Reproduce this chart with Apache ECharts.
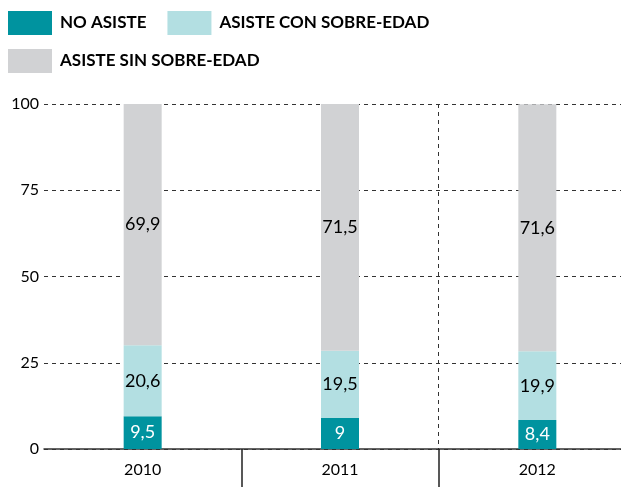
<!DOCTYPE html>
<html>
<head>
<meta charset="utf-8">
<script src="https://cdn.jsdelivr.net/npm/echarts@6/dist/echarts.min.js"></script>
<style>
  html, body { margin: 0; padding: 0; background: #fff; }
  #chart { width: 621px; height: 487px; }
</style>
</head>
<body>
<div id="chart"></div>
<script>
// datos
const years = ['2010', '2011', '2012']
const noAsiste = [9.5, 9, 8.4]
const conSobreEdad = [20.6, 19.5, 19.9]
const sinSobreEdad = [69.9, 71.5, 71.6]
const yTicks = [0, 25, 50, 75, 100]

const FONT = 'Lato'
const fmt = (p) => String(p.value).replace('.', ',')

const chart = echarts.init(document.getElementById('chart'))

function barSerie(name, data, color, labelColor) {
  return {
    name: name,
    type: 'bar',
    stack: 'total',
    barWidth: 38,
    data: data,
    itemStyle: { color: color },
    label: {
      show: true,
      position: 'inside',
      color: labelColor,
      fontFamily: FONT,
      fontSize: 18,
      formatter: fmt,
    },
  }
}

const legendBase = {
  itemWidth: 44,
  itemHeight: 24,
  itemGap: 21,
  padding: 0,
  icon: 'rect',
  selectedMode: false,
  textStyle: {
    fontFamily: FONT, fontWeight: 'bold', fontSize: 17, color: '#000',
    padding: [0, 0, 0, 3],
  },
}

chart.setOption({
  animation: false,
  legend: [
    Object.assign({}, legendBase, { left: 8, top: 11, data: ['NO ASISTE', 'ASISTE CON SOBRE-EDAD'] }),
    Object.assign({}, legendBase, { left: 8, top: 49, data: ['ASISTE SIN SOBRE-EDAD'] }),
  ],
  // la tercera columna sigue fuera del lienzo
  grid: { left: 44, width: 592, top: 104, bottom: 38, outerBoundsMode: 'none' },
  xAxis: {
    type: 'category',
    data: years,
    axisLine: { show: true, lineStyle: { color: '#333', width: 1.5 } },
    axisTick: {
      show: true,
      length: 40,
      interval: (i) => i > 0,
      lineStyle: { color: '#222', width: 1.5 },
    },
    axisLabel: { color: '#000', fontFamily: FONT, fontSize: 16, margin: 13 },
    splitLine: {
      show: true,
      showMinLine: false,
      interval: (i) => i > 0,
      lineStyle: { color: '#333', type: [4, 4] },
    },
  },
  yAxis: {
    type: 'value',
    min: yTicks[0],
    max: yTicks[yTicks.length - 1],
    interval: 25,
    axisLine: { show: false },
    axisTick: { show: false },
    axisLabel: { color: '#000', fontFamily: FONT, fontSize: 16, margin: 5 },
    splitLine: { lineStyle: { color: '#333', type: [4, 4] } },
  },
  series: [
    barSerie('NO ASISTE', noAsiste, '#00939f', '#fff'),
    barSerie('ASISTE CON SOBRE-EDAD', conSobreEdad, '#b3dfe2', '#000'),
    barSerie('ASISTE SIN SOBRE-EDAD', sinSobreEdad, '#d1d2d4', '#000'),
  ],
})
</script>
</body>
</html>
